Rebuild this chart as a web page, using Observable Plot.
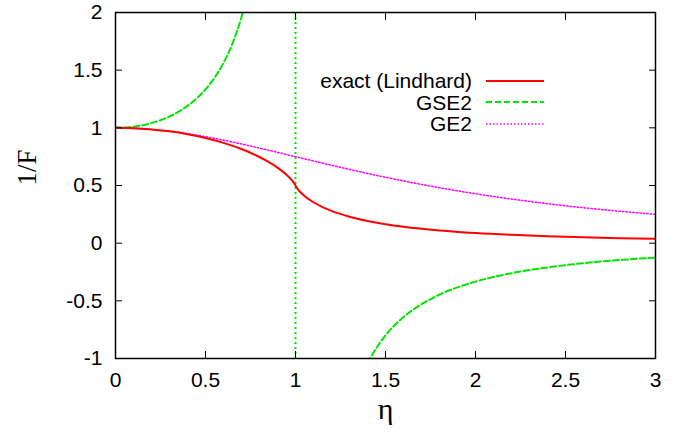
<!DOCTYPE html>
<html>
<head>
<meta charset="utf-8">
<script src="https://cdn.jsdelivr.net/npm/d3@7"></script>
<script src="https://cdn.jsdelivr.net/npm/@observablehq/plot@0.6"></script>
<style>
  body { margin: 0; background: #fff; }
  #wrap { position: relative; width: 689px; height: 433px; font-family: "Liberation Sans", Arial, sans-serif; }
  #legend { position: absolute; left: 200px; top: 70px; width: 344px; }
  .row { display: flex; justify-content: flex-end; align-items: center; height: 21.5px; font-size: 21px; color: #000; }
  .row span { display: inline-block; height: 21.5px; line-height: 21.5px; overflow: visible; }
  .row svg { margin-left: 14px; }
</style>
</head>
<body>
<div id="wrap"></div>
<script>
// ---- data ----
const seriesNames = ["exact (Lindhard)", "GSE2", "GE2"];
const seriesColors = ["#ff0000", "#00e600", "#ff00ff"];

const lindEta = [0, 0.1, 0.2, 0.3, 0.4, 0.5, 0.6, 0.7, 0.8, 0.85, 0.9, 0.95, 0.98, 0.99, 1.0, 1.01, 1.02, 1.05, 1.1, 1.15, 1.2, 1.3, 1.4, 1.5, 1.6, 1.8, 2.0, 2.2, 2.4, 2.6, 2.8, 3.0];
const lindVal = [1, 0.9967, 0.9866, 0.9694, 0.9448, 0.912, 0.8697, 0.816, 0.7472, 0.705, 0.6554, 0.594, 0.5464, 0.5266, 0.5, 0.4736, 0.4543, 0.4094, 0.3547, 0.3133, 0.2802, 0.2297, 0.1928, 0.1647, 0.1426, 0.1103, 0.088, 0.072, 0.0601, 0.0509, 0.0437, 0.0379];

const gseEta = [0, 0.1, 0.2, 0.3, 0.4, 0.5, 0.55, 0.6, 0.65, 0.7, 0.72, 0.75, 1.0, 1.4, 1.45, 1.5, 1.6, 1.7, 1.8, 2.0, 2.2, 2.4, 2.6, 2.8, 3.0];
const gseVal = [1, 1.0101, 1.0417, 1.0989, 1.1905, 1.3333, 1.4337, 1.5625, 1.7316, 1.9608, 2.0764, 2.2857, null, -1.0417, -0.907, -0.8, -0.641, -0.5291, -0.4464, -0.3333, -0.2604, -0.2101, -0.1736, -0.1462, -0.125];
const gseAsymptote = [1];

const geEta = [0, 0.25, 0.5, 0.75, 1.0, 1.25, 1.5, 1.75, 2.0, 2.25, 2.5, 2.75, 3.0];
const geVal = [1, 0.9796, 0.9231, 0.8421, 0.75, 0.6575, 0.5714, 0.4949, 0.4286, 0.3721, 0.3243, 0.284, 0.25];

const xTicks = [0, 0.5, 1, 1.5, 2, 2.5, 3];
const yTicks = [-1, -0.5, 0, 0.5, 1, 1.5, 2];
const xLabel = "η";
const yLabel = "1/F";

const dashes = [null, "6,3", "1.5,2"];

const fmt = d => String(d);

const chart = Plot.plot({
  width: 689,
  height: 433,
  marginLeft: 115,
  marginRight: 34,
  marginTop: 12,
  marginBottom: 75,
  style: { fontFamily: "Liberation Sans, Arial, sans-serif", fontSize: "21px", color: "#000", background: "#fff" },
  x: { domain: [0, 3] },
  y: { domain: [-1, 2] },
  marks: [
    Plot.line(geEta, { x: geEta, y: geVal, stroke: seriesColors[2], strokeWidth: 1.5, strokeDasharray: dashes[2], curve: "monotone-x", clip: true }),
    Plot.ruleX(gseAsymptote, { x: d => d, stroke: seriesColors[1], strokeWidth: 2, strokeDasharray: "2,3" }),
    Plot.line(gseEta, { x: gseEta, y: gseVal, stroke: seriesColors[1], strokeWidth: 2, strokeDasharray: dashes[1], curve: "monotone-x", clip: true }),
    Plot.line(lindEta, { x: lindEta, y: lindVal, stroke: seriesColors[0], strokeWidth: 2, curve: "monotone-x", clip: true }),
    Plot.axisX(xTicks, { anchor: "bottom", tickSize: -7, tickPadding: 21, tickFormat: fmt, label: null, fontSize: 21 }),
    Plot.axisX(xTicks, { anchor: "top", tickSize: -7, tickFormat: () => "", label: null }),
    Plot.axisY(yTicks, { anchor: "left", tickSize: -7, tickPadding: 20, tickFormat: fmt, label: null, fontSize: 21 }),
    Plot.axisY(yTicks, { anchor: "right", tickSize: -7, tickFormat: () => "", label: null }),
    Plot.frame({ stroke: "#000", strokeWidth: 1.5 }),
    Plot.text([yLabel], { text: d => d, frameAnchor: "left", rotate: -90, dx: -88, fontFamily: "Liberation Serif, Times New Roman, serif", fontSize: 27 }),
    Plot.text([xLabel], { text: d => d, frameAnchor: "bottom", dy: 60, fontFamily: "Liberation Serif, Times New Roman, serif", fontSize: 30 })
  ]
});

const wrap = document.getElementById("wrap");
wrap.appendChild(chart);

// legend (HTML overlay)
const legend = document.createElement("div");
legend.id = "legend";
seriesNames.forEach((name, i) => {
  const row = document.createElement("div");
  row.className = "row";
  const span = document.createElement("span");
  span.textContent = name;
  row.appendChild(span);
  const ns = "http://www.w3.org/2000/svg";
  const s = document.createElementNS(ns, "svg");
  s.setAttribute("width", 58);
  s.setAttribute("height", 6);
  const ln = document.createElementNS(ns, "line");
  ln.setAttribute("x1", 0); ln.setAttribute("x2", 58);
  ln.setAttribute("y1", 3); ln.setAttribute("y2", 3);
  ln.setAttribute("stroke", seriesColors[i]);
  ln.setAttribute("stroke-width", i === 2 ? 1.5 : 2);
  if (dashes[i]) ln.setAttribute("stroke-dasharray", dashes[i]);
  s.appendChild(ln);
  row.appendChild(s);
  legend.appendChild(row);
});
wrap.appendChild(legend);
</script>
</body>
</html>
